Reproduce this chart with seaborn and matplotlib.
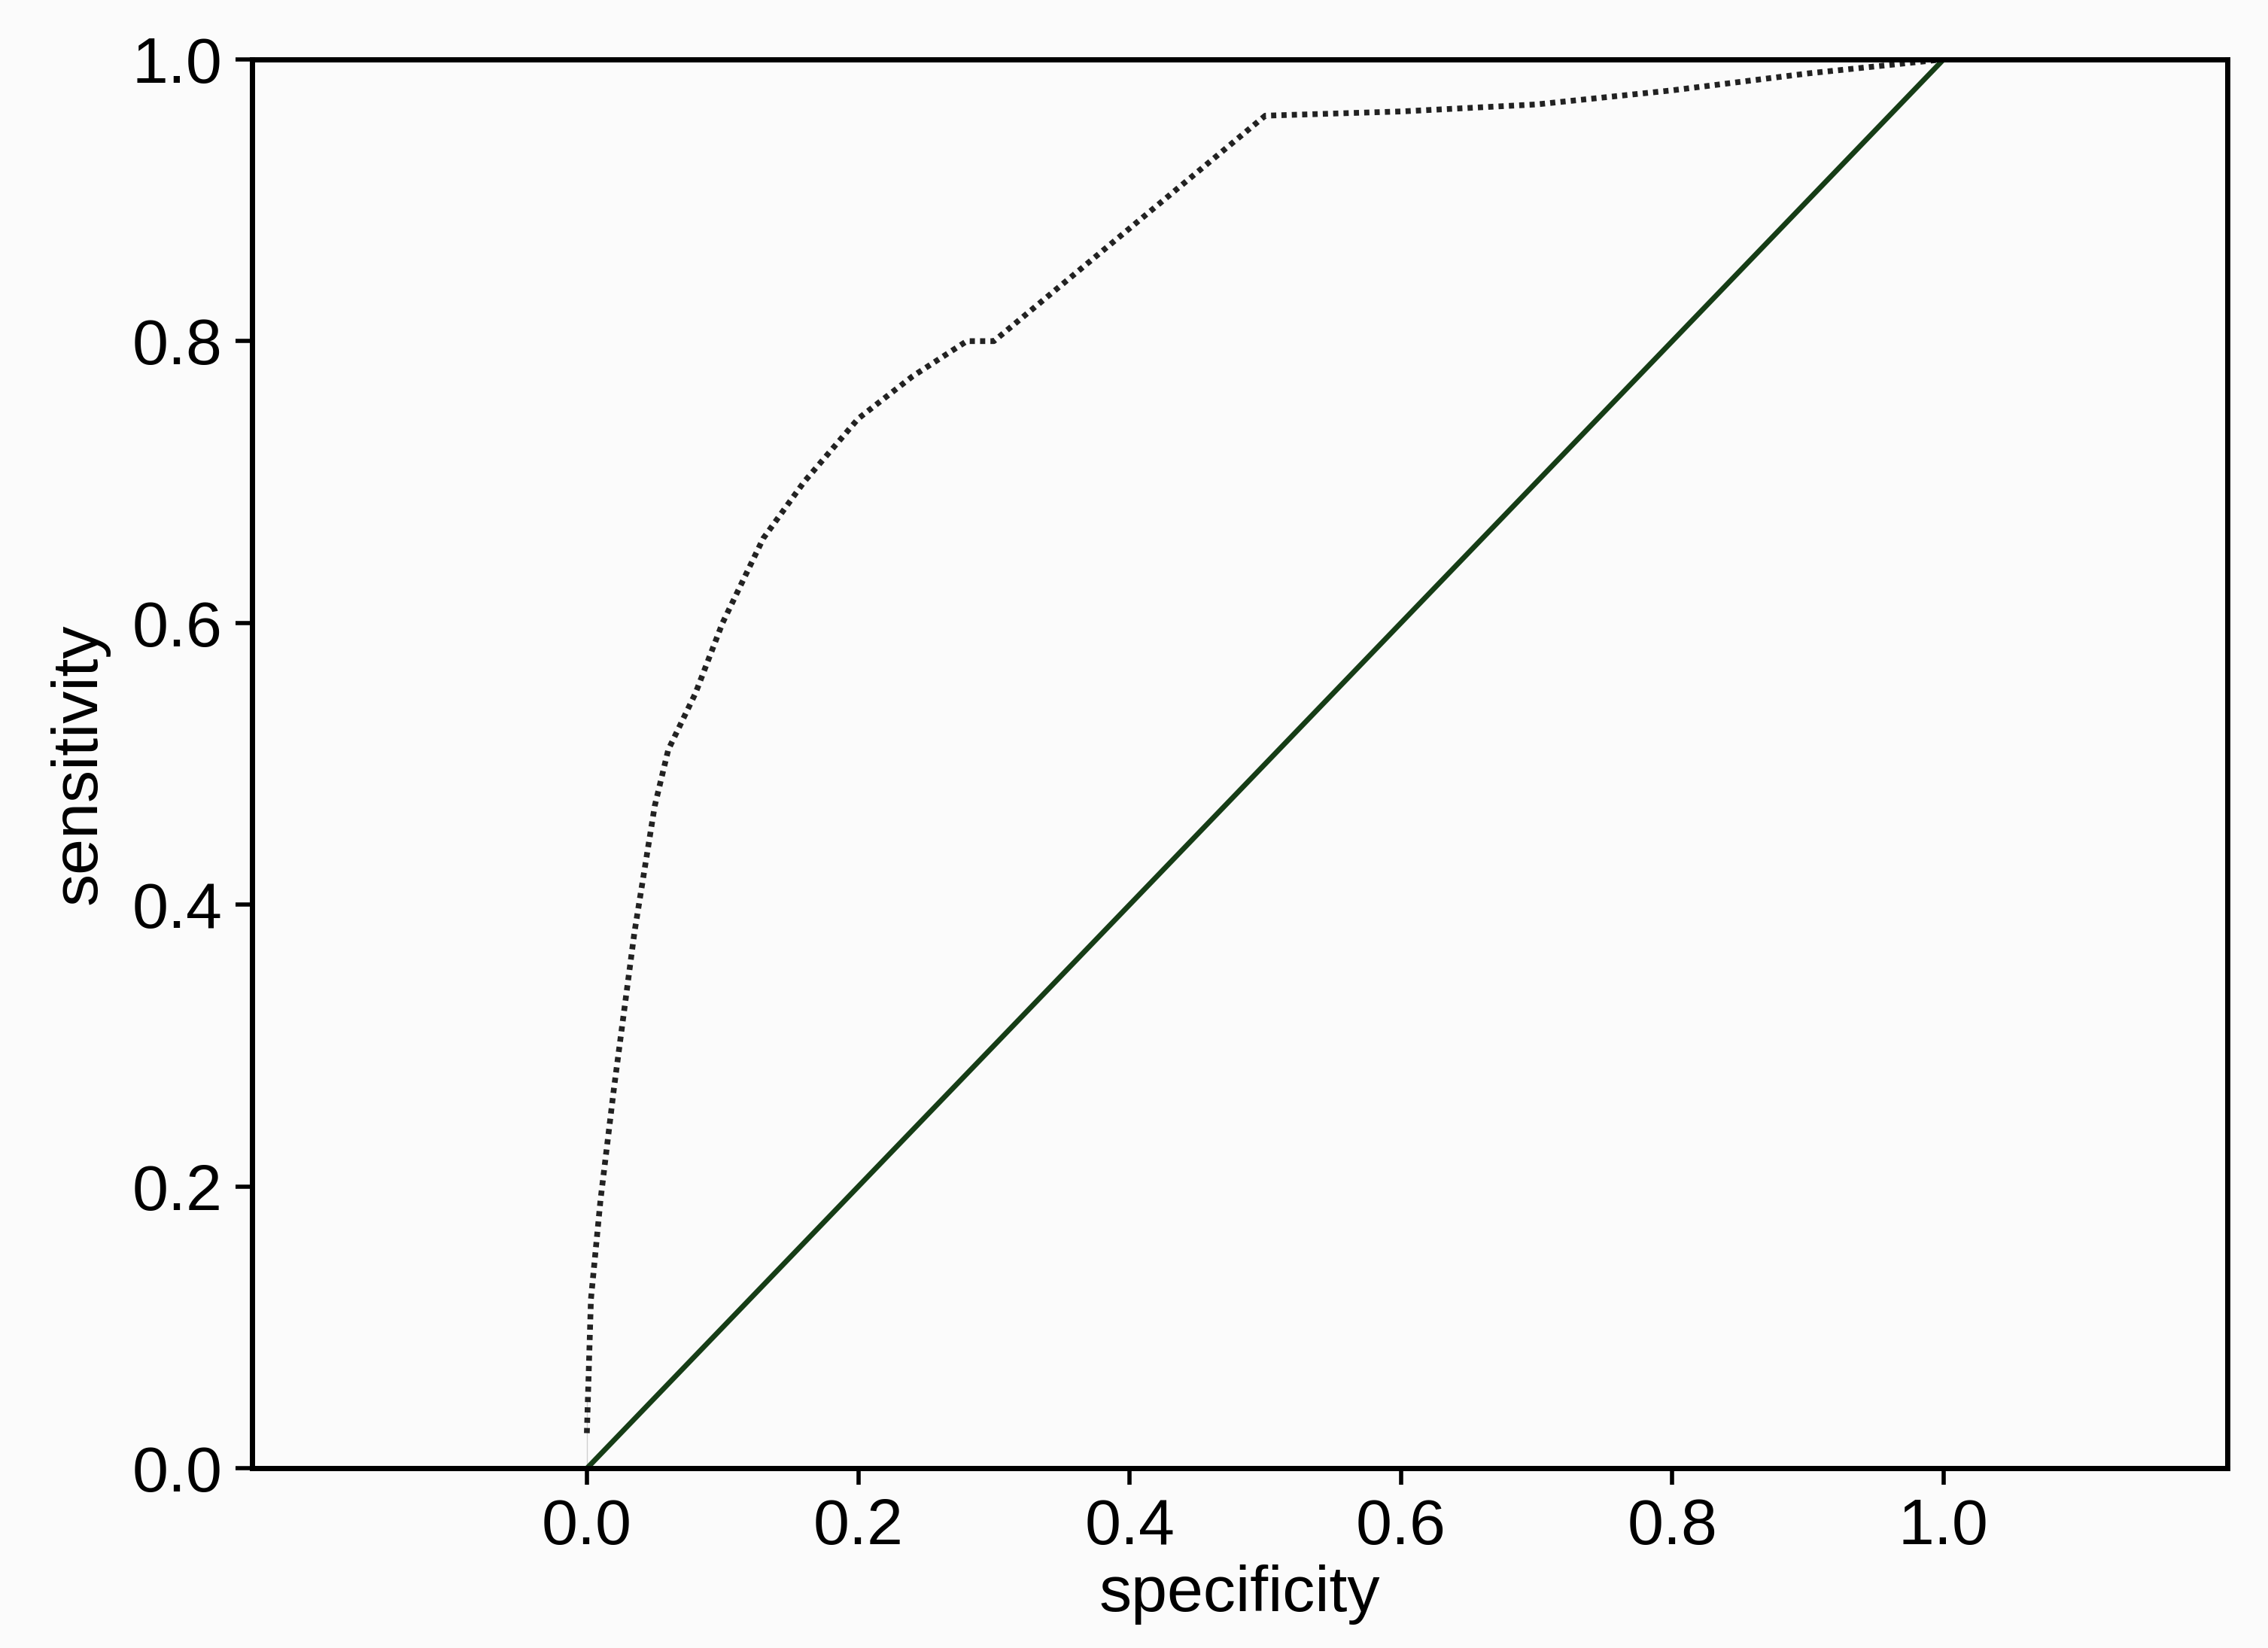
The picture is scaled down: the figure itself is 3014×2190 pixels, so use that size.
import matplotlib
matplotlib.use("Agg")
import matplotlib.pyplot as plt
import seaborn as sns
import pandas as pd

spec = [0.0, 0.0, 0.003, 0.01, 0.02, 0.035, 0.05, 0.06, 0.08, 0.1, 0.13, 0.16, 0.2, 0.24, 0.28, 0.30, 0.35, 0.4, 0.45, 0.5, 0.6, 0.7, 0.8, 0.9, 1.0]
sens = [0.0, 0.05, 0.12, 0.19, 0.27, 0.38, 0.47, 0.51, 0.55, 0.60, 0.66, 0.70, 0.745, 0.775, 0.80, 0.80, 0.84, 0.88, 0.92, 0.96, 0.963, 0.968, 0.978, 0.99, 1.0]
diag_x = [0.0, 1.0]
diag_y = [0.0, 1.0]

sns.set_style("white")
plt.rcParams['font.family'] = ['Liberation Sans', 'DejaVu Sans']
fig = plt.figure(figsize=(30.14, 21.9), dpi=100)
fig.patch.set_facecolor('#fbfbfb')
ax = fig.add_axes([0.111, 0.109, 0.871, 0.855])
ax.set_facecolor('#fbfbfb')
sns.lineplot(x=diag_x, y=diag_y, ax=ax, color='#163d16', lw=5)
sns.lineplot(data=pd.DataFrame({'s': spec, 't': sens}), x='s', y='t', sort=False, ax=ax,
             color='#222222', lw=5.5, linestyle=(0, (0.9, 0.9)))
ax.set_xlim(-0.247, 1.209)
ax.set_ylim(0, 1)
ax.set_xticks([0, 0.2, 0.4, 0.6, 0.8, 1.0])
ax.set_yticks([0, 0.2, 0.4, 0.6, 0.8, 1.0])
ax.set_xticklabels(['0.0', '0.2', '0.4', '0.6', '0.8', '1.0'])
ax.set_yticklabels(['0.0', '0.2', '0.4', '0.6', '0.8', '1.0'])
ax.tick_params(labelsize=62, length=16, width=4, direction='out', bottom=True, left=True, pad=12,
               colors='black')
for s in ax.spines.values():
    s.set_linewidth(5)
    s.set_color('black')
ax.set_xlabel('specificity', fontsize=62, labelpad=6, color='black')
ax.set_ylabel('sensitivity', fontsize=62, labelpad=22, color='black')
fig.savefig('out.png', dpi=100, facecolor=fig.get_facecolor())
